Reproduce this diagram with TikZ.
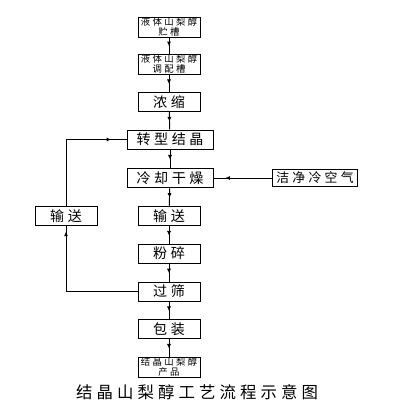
\documentclass[tikz,border=0pt]{standalone}
\usepackage{fontspec}
\newfontfamily\cjk[LetterSpace=25]{Noto Sans CJK SC}
\usetikzlibrary{arrows.meta, decorations.markings}

\begin{document}
\begin{tikzpicture}[
    x=0.03cm, y=-0.03cm,
    >=Latex,
    line width=0.8pt,
    stepbox/.style={rectangle, draw, fill=white, minimum width=1.86cm,
        minimum height=0.57cm, inner sep=1pt, align=center,
        font=\cjk\fontsize{12}{12}\selectfont},
    widebox/.style={stepbox, minimum width=2.58cm},
    airbox/.style={stepbox, minimum width=2.55cm, minimum height=0.5cm,
        font=\cjk\fontsize{11}{11}\selectfont},
    tankbox/.style={stepbox, minimum height=0.6cm, inner sep=0.5pt,
        font=\cjk\fontsize{8}{8.5}\selectfont},
    midarrow/.style={postaction={decorate}, decoration={markings,
        mark=at position #1 with {\arrow{Latex[length=4pt, width=3.5pt]}}}},
    midarrow/.default=0.55
]
\useasboundingbox (0,0) rectangle (400,405);

\node[tankbox] (store) at (169,27) {液体山梨醇\\贮槽};
\node[tankbox] (mix) at (169,64) {液体山梨醇\\调配槽};
\node[stepbox] (conc) at (169,102) {浓缩};
\node[widebox] (cryst) at (170,139.5) {转型结晶};
\node[widebox] (dry) at (170,178) {冷却干燥};
\node[airbox] (air) at (315,178) {洁净冷空气};
\node[stepbox] (conv) at (169,216) {输送};
\node[stepbox] (back) at (66,216) {输送};
\node[stepbox] (mill) at (169,253.5) {粉碎};
\node[stepbox] (sieve) at (169,291.5) {过筛};
\node[stepbox] (pack) at (169,329) {包装};
\node[tankbox] (prod) at (169,367) {结晶山梨醇\\产品};

\draw[midarrow] (store) -- (mix);
\draw[midarrow] (mix) -- (conc);
\draw[midarrow] (conc) -- (cryst);
\draw[midarrow] (cryst) -- (dry);
\draw[midarrow] (dry) -- (conv);
\draw[midarrow] (conv) -- (mill);
\draw[midarrow] (mill) -- (sieve);
\draw[midarrow] (sieve) -- (pack);
\draw[midarrow] (pack) -- (prod);

% air and recycle loop
\draw[midarrow=0.8] (air) -- (dry);
\draw[midarrow=0.96] (sieve.west) -| (back.south);
\draw[midarrow=0.88] (back.north) |- (cryst.west);

\node[font=\cjk\fontsize{14}{14}\selectfont] (title) at (197,392) {结晶山梨醇工艺流程示意图};

\end{tikzpicture}
\end{document}
